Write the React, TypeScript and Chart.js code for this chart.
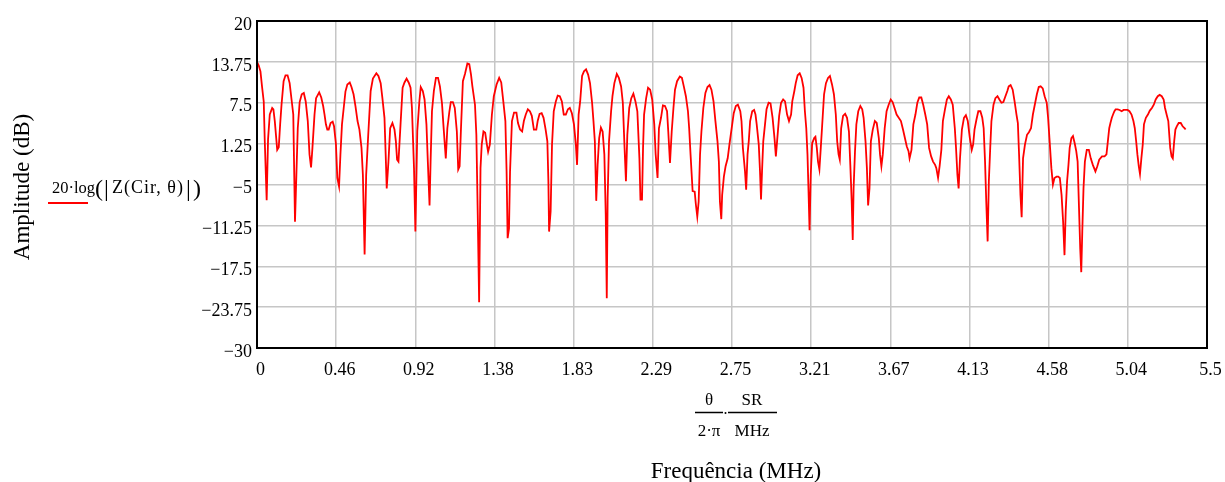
import React, { useEffect, useRef } from 'react';
import { Chart, registerables } from 'chart.js';

Chart.register(...registerables);

const freqMHz = [
  0, 0.01, 0.02, 0.029, 0.039, 0.045, 0.056, 0.064, 0.074, 0.088, 0.095, 0.103, 0.117, 0.126, 0.134, 0.142,
  0.154, 0.165, 0.177, 0.189, 0.2, 0.21, 0.22, 0.228, 0.236, 0.247, 0.259, 0.271, 0.282, 0.294, 0.304, 0.313,
  0.321, 0.333, 0.342, 0.36, 0.372, 0.383, 0.391, 0.399, 0.407, 0.415, 0.426, 0.438, 0.446, 0.457, 0.465, 0.475,
  0.483, 0.492, 0.502, 0.512, 0.523, 0.537, 0.547, 0.559, 0.57, 0.582, 0.593, 0.605, 0.613, 0.623, 0.632, 0.644,
  0.658, 0.671, 0.691, 0.703, 0.716, 0.726, 0.738, 0.745, 0.751, 0.761, 0.771, 0.784, 0.796, 0.804, 0.811, 0.819,
  0.831, 0.843, 0.854, 0.866, 0.878, 0.889, 0.897, 0.909, 0.917, 0.928, 0.94, 0.948,
  0.96, 0.97, 0.981, 0.989, 0.999, 1.005, 1.013, 1.024, 1.036, 1.048, 1.059, 1.071, 1.079, 1.093, 1.102, 1.114,
  1.122, 1.134, 1.145, 1.157, 1.165, 1.173, 1.181, 1.192, 1.204, 1.218, 1.229, 1.239, 1.247, 1.262, 1.27, 1.278,
  1.286, 1.294, 1.301, 1.311, 1.321, 1.331, 1.338, 1.348, 1.36, 1.371, 1.387, 1.402, 1.414, 1.426, 1.438, 1.445,
  1.451, 1.459, 1.465, 1.476, 1.488, 1.502, 1.511, 1.523, 1.535, 1.545, 1.556, 1.568, 1.58, 1.591, 1.603, 1.617,
  1.625, 1.636, 1.648, 1.659, 1.671, 1.681, 1.687, 1.691, 1.7, 1.708, 1.718, 1.73, 1.741, 1.753, 1.765, 1.776,
  1.788, 1.8, 1.811, 1.823, 1.835, 1.846, 1.853,
  1.862, 1.871, 1.882, 1.893, 1.905, 1.917, 1.928, 1.94, 1.948, 1.956, 1.964, 1.972, 1.981, 1.991, 2.001, 2.011,
  2.019, 2.025, 2.03, 2.038, 2.05, 2.058, 2.069, 2.083, 2.095, 2.108, 2.118, 2.128, 2.136, 2.144, 2.155, 2.167,
  2.179, 2.191, 2.202, 2.214, 2.22, 2.229, 2.235, 2.241, 2.253, 2.264, 2.276, 2.288, 2.3, 2.308, 2.319, 2.327,
  2.339, 2.35, 2.362, 2.374, 2.381, 2.391, 2.401, 2.411, 2.42, 2.432, 2.448, 2.46, 2.471, 2.483, 2.495, 2.502,
  2.51, 2.522, 2.534, 2.541, 2.549, 2.557, 2.565, 2.573, 2.584, 2.596, 2.608, 2.62, 2.631, 2.643, 2.654, 2.666,
  2.674, 2.68, 2.688, 2.693, 2.703, 2.713, 2.725, 2.736, 2.748, 2.76, 2.772, 2.784,
  2.798, 2.805, 2.813, 2.825, 2.832, 2.84, 2.847, 2.855, 2.867, 2.878, 2.886, 2.893, 2.905, 2.912, 2.918, 2.924,
  2.931, 2.943, 2.95, 2.962, 2.973, 2.985, 2.996, 3.004, 3.011, 3.023, 3.034, 3.046, 3.057, 3.069, 3.08, 3.092,
  3.099, 3.111, 3.119, 3.13, 3.142, 3.153, 3.164, 3.172, 3.18, 3.187, 3.193, 3.199, 3.206, 3.214, 3.226, 3.233,
  3.241, 3.248, 3.256, 3.264, 3.271, 3.283, 3.294, 3.306, 3.317, 3.329, 3.34, 3.351, 3.359, 3.367, 3.374, 3.382,
  3.393, 3.405, 3.416, 3.427, 3.435, 3.443, 3.449, 3.454, 3.462, 3.47, 3.481, 3.493, 3.504, 3.512, 3.523, 3.531,
  3.538, 3.546, 3.554, 3.565, 3.577, 3.588, 3.6, 3.607, 3.615, 3.623, 3.634, 3.645, 3.657, 3.669, 3.68, 3.691,
  3.703,
  3.728, 3.74, 3.751, 3.762, 3.772, 3.778, 3.789, 3.8, 3.812, 3.823, 3.834, 3.846, 3.857, 3.869, 3.88, 3.891,
  3.903, 3.914, 3.926, 3.933, 3.943, 3.952, 3.962, 3.971, 3.983, 3.994, 4.005, 4.017, 4.028, 4.04, 4.047, 4.055,
  4.062, 4.07, 4.081, 4.093, 4.104, 4.115, 4.127, 4.138, 4.146, 4.154, 4.165, 4.176, 4.188, 4.199, 4.207, 4.215,
  4.222, 4.23, 4.237, 4.245, 4.252, 4.264, 4.275, 4.287, 4.298, 4.31, 4.321, 4.333, 4.344, 4.352, 4.363, 4.375,
  4.386, 4.397, 4.405, 4.412, 4.42, 4.427, 4.435, 4.446, 4.458, 4.469, 4.481, 4.492, 4.503, 4.515, 4.526, 4.537,
  4.549, 4.56, 4.572, 4.58, 4.589, 4.599, 4.608, 4.617, 4.629,
  4.639, 4.648, 4.658, 4.667, 4.675, 4.682, 4.69, 4.698, 4.705, 4.715, 4.724, 4.734, 4.743, 4.751, 4.759, 4.766,
  4.772, 4.778, 4.785, 4.793, 4.804, 4.816, 4.827, 4.839, 4.854, 4.865, 4.876, 4.892, 4.907, 4.918, 4.926, 4.934,
  4.941, 4.949, 4.956, 4.964, 4.971, 4.983, 4.994, 5.006, 5.017, 5.029, 5.04, 5.051, 5.063, 5.074, 5.082, 5.09,
  5.097, 5.105, 5.112, 5.12, 5.128, 5.135, 5.146, 5.158, 5.169, 5.181, 5.192, 5.203, 5.215, 5.226, 5.238, 5.249,
  5.257, 5.268, 5.276, 5.283, 5.287, 5.295, 5.302, 5.31, 5.317, 5.325, 5.336, 5.348, 5.359, 5.371, 5.376,
];

const amplitudeDb = [
  13.75, 13.2, 12.3, 10, 7.7, 1.6, -7.4, 1.9, 5.7, 6.7, 6.5, 4.7, 0.3, 0.7, 4.2, 7.2,
  10.8, 11.7, 11.7, 10.5, 8, 5.7, -10.7, -3.5, 3.6, 7.6, 8.8, 9, 7.7, 4.7, -0.4, -2.4,
  0.6, 5.7, 8.2, 9.1, 8.3, 7, 5.7, 4.2, 3.4, 3.4, 4.4, 4.6, 3.9, 1.2, -4, -5.3,
  -0.4, 4.2, 6.7, 9.2, 10.3, 10.6, 9.9, 8.8, 7, 4.7, 3.4, 0.6, -3.5, -15.7, -3.5, 2.6,
  9.3, 11.2, 12, 11.6, 10.5, 8.2, 5.2, -0.4, -5.6, -1.5, 3.6, 4.4, 3.4, 1.6, -1.2, -1.5,
  4.2, 9.8, 10.6, 11.2, 10.6, 9.8, 6.7, -2.5, -12.2, 3.2, 7.7, 9.9,
  9.3, 8, 4.2, -1.5, -8.2, -1.5, 6.2, 9.3, 11.3, 11.3, 10, 7.4, 4.2, -1, 3.6, 6.2,
  7.6, 7.6, 6.7, 3.1, -2.7, -2.2, 3.6, 10.8, 11.9, 13.5, 13.4, 11.8, 10, 7.2, 2.6, -9.6,
  -23, -2.5, 1.1, 3.1, 2.9, 1.1, 0, 1.1, 5.7, 8.5, 10.3, 11.3, 10.6, 7.7, 4.7, -3,
  -13.2, -11.7, -3, 4.7, 6, 6, 4.4, 3.4, 3.1, 4.7, 5.7, 6.5, 6.2, 5.5, 3.4, 3.4,
  4.7, 5.8, 5.9, 5.2, 3.4, 1.6, -4.5, -12.2, -9.1, 1.1, 6.2, 7.7, 8.6, 8.5, 7.7, 5.7,
  5.7, 6.5, 6.7, 5.9, 4.2, 1.1, -2,
  5.7, 7.7, 11.6, 12.3, 12.6, 11.8, 10.5, 7.5, 4.7, 1.6, -7.5, -2, 2.1, 3.7, 3.1, -0.4,
  -9.6, -22.4, -7.1, 1.6, 6.2, 8.5, 10.5, 11.9, 11.3, 10, 7.5, 0.6, -4.5, 2.6, 6.7, 8.2,
  8.9, 7.7, 6.2, -1, -7.3, -7.3, 0.6, 5.7, 8.2, 9.8, 9.5, 8, 4.2, -0.4, -4, 3.6,
  5.2, 7.1, 7, 6.2, 3.1, -1.7, 3.1, 6.7, 9.5, 10.8, 11.5, 11.3, 10, 8.5, 6.2, 3.6,
  -0.4, -6, -6.1, -8.1, -9.9, -7.6, -0.4, 3.1, 6.7, 9, 9.9, 10.2, 9.5, 7.7, 4.7, 1.6,
  -1.5, -7.6, -10.3, -6.6, -3.8, -2.2, -1, 1.3, 3.6, 5.9, 7, 7.2,
  6.2, 4.7, 0.6, -2.9, -5.8, -0.4, 1.6, 4.7, 6.2, 6.4, 5.7, 4.2, 1.1, -2.9, -7.3, -2.9,
  1.6, 4.7, 6.5, 7.5, 7.4, 5.2, 2.1, -0.7, 1.6, 5.5, 7.5, 8, 7.7, 5.7, 4.7, 5.7,
  7.7, 9.3, 10.5, 11.7, 12, 11.3, 9.8, 6.2, 3.6, -0.4, -6, -12, -3.5, 1.3, 2.1, 2.3,
  0.6, -1.5, -2.7, 0.6, 3.6, 8.8, 10.5, 11.3, 11.6, 10.3, 8.8, 5.7, 1.6, -0.4, -1.2, 3.6,
  5.5, 5.8, 5.2, 3.1, -2, -7.6, -13.5, -5.6, 0, 4.2, 6.2, 7, 6.5, 5.2, 1.6, -2.5,
  -8.2, -5.6, 1.6, 3.4, 4.7, 4.4, 2.1, -0.4, -2.2, -0.4, 3.6, 6.2, 7.2, 8, 7.6, 6.7,
  5.7,
  4.7, 3.4, 2.1, 0.8, 0.1, -1, 0.3, 4.2, 5.7, 7.5, 8.3, 8.3, 7.2, 5.7, 4.2, 0.6,
  -0.7, -1.5, -2, -2.5, -4, -2.2, 0.3, 4.7, 6.5, 8, 8.5, 8, 7.2, 3.6, 0.6, -3.5,
  -5.6, -1, 3.4, 5.2, 5.6, 4.7, 2.1, 0.3, 1.1, 3.4, 4.9, 6.2, 6.2, 5.2, 3.6, -1.5,
  -7.6, -13.7, -4.5, 0.6, 4.7, 7.2, 8.2, 8.5, 8, 7.5, 7.6, 8.5, 9.3, 10, 10.2, 9.5,
  7.7, 5.7, 4.4, -0.4, -6.6, -10, -1, 1.1, 2.6, 3, 3.6, 5.7, 7.2, 8.8, 9.9, 10,
  9.7, 8.5, 7.5, 5.2, 1.6, -2.5, -5, -4, -3.8,
  -3.8, -4, -6.6, -10.7, -15.8, -9.1, -4.5, -2, 0.6, 2.1, 2.4, 1.3, 0.1, -1.5, -8.6, -14.8,
  -18.4, -12.2, -5.6, -1.5, 0.3, 0.3, -1, -2, -3, -2.2, -1.2, -0.7, -0.7, -0.4, 1.6, 3.6,
  4.4, 5.2, 5.7, 6.2, 6.5, 6.5, 6.4, 6.2, 6.4, 6.4, 6.4, 6.2, 5.7, 4.7, 3.6, 1.6,
  -0.4, -2.2, -3.4, -1, 1.1, 4.2, 5.2, 5.7, 6.3, 6.7, 7.2, 8, 8.5, 8.7, 8.5, 8,
  6.7, 5.5, 4.7, 2.1, 0.6, -0.7, -1, 1.6, 3.4, 3.9, 4.4, 4.4, 3.9, 3.6, 3.4,
];

const xTickValues = [0, 0.45833, 0.91667, 1.375, 1.83333, 2.29167, 2.75, 3.20833, 3.66667, 4.125, 4.58333, 5.04167, 5.5];
const xTickLabels = ['0', '0.46', '0.92', '1.38', '1.83', '2.29', '2.75', '3.21', '3.67', '4.13', '4.58', '5.04', '5.5'];
const yTickValues = [-30, -23.75, -17.5, -11.25, -5, 1.25, 7.5, 13.75, 20];
const yTickLabels = ['\u221230', '\u221223.75', '\u221217.5', '\u221211.25', '\u22125', '1.25', '7.5', '13.75', '20'];

const yTitle = 'Amplitude (dB)';
const xTitle = 'Frequência (MHz)';
const legendPrefix = '20·log';
const legendArg = 'Z(Cir, θ)';

const SERIF = "'Liberation Serif', 'Times New Roman', serif";

function labelFor(values: number[], labels: string[], v: number): string {
  const i = values.findIndex((t) => Math.abs(t - v) < 1e-4);
  return i >= 0 ? labels[i] : '';
}

const overlay = {
  id: 'mathcadOverlay',
  afterDraw(chart: any) {
    const ctx: any = chart.ctx;
    const a = chart.chartArea;
    ctx.save();
    // frame
    ctx.strokeStyle = '#000';
    ctx.lineWidth = 2;
    ctx.strokeRect(a.left, a.top, a.right - a.left, a.bottom - a.top);

    ctx.fillStyle = '#000';
    // y title
    ctx.save();
    ctx.translate(23, 187);
    ctx.rotate(-Math.PI / 2);
    ctx.font = `23px ${SERIF}`;
    ctx.textAlign = 'center';
    ctx.textBaseline = 'middle';
    ctx.fillText(yTitle, 0, 0);
    ctx.restore();

    // x title
    ctx.font = `23px ${SERIF}`;
    ctx.textAlign = 'center';
    ctx.textBaseline = 'alphabetic';
    ctx.fillText(xTitle, 736, 478);

    // legend
    ctx.textAlign = 'left';
    ctx.font = `17px ${SERIF}`;
    ctx.fillText(legendPrefix, 52, 193, 43);
    ctx.font = `24px ${SERIF}`;
    ctx.fillText('(', 95, 196);
    ctx.fillText('|', 104, 196);
    ctx.font = `18px ${SERIF}`;
    ctx.letterSpacing = '1px';
    ctx.fillText(legendArg, 112, 193);
    ctx.letterSpacing = '0px';
    ctx.font = `24px ${SERIF}`;
    ctx.fillText('|', 186, 196);
    ctx.fillText(')', 193, 196);
    ctx.strokeStyle = '#ff0000';
    ctx.lineWidth = 2;
    ctx.beginPath();
    ctx.moveTo(48, 203);
    ctx.lineTo(88, 203);
    ctx.stroke();

    // x-axis expression: θ/(2·π) · SR/MHz
    ctx.fillStyle = '#000';
    ctx.strokeStyle = '#000';
    ctx.lineWidth = 1.5;
    ctx.font = `17px ${SERIF}`;
    ctx.textAlign = 'center';
    ctx.fillText('θ', 709, 405);
    ctx.fillText('2·π', 709, 436);
    ctx.fillText('SR', 752, 405);
    ctx.fillText('MHz', 752, 436);
    ctx.beginPath();
    ctx.moveTo(695, 412.5);
    ctx.lineTo(723, 412.5);
    ctx.moveTo(728, 412.5);
    ctx.lineTo(777, 412.5);
    ctx.stroke();
    ctx.beginPath();
    ctx.arc(725.5, 413, 1, 0, Math.PI * 2);
    ctx.fill();
    ctx.restore();
  },
};

export default function App() {
  const ref = useRef<HTMLCanvasElement>(null);
  useEffect(() => {
    const canvas = ref.current;
    if (!canvas) return;
    const points = freqMHz.map((f, i) => ({ x: f, y: amplitudeDb[i] }));
    const chart = new Chart(canvas, {
      type: 'line',
      data: {
        datasets: [
          {
            data: points,
            borderColor: '#ff0000',
            borderWidth: 1.8,
            pointRadius: 0,
            tension: 0,
            fill: false,
          },
        ],
      },
      options: {
        animation: false,
        responsive: false,
        events: [],
        layout: { padding: { left: 0, top: 21, right: 18, bottom: 0 } },
        plugins: { legend: { display: false }, tooltip: { enabled: false } },
        scales: {
          x: {
            type: 'linear',
            min: 0,
            max: 5.5,
            afterBuildTicks: (s: any) => {
              s.ticks = xTickValues.map((v) => ({ value: v }));
            },
            afterFit: (s: any) => {
              s.height = 134;
              s.paddingLeft = 0;
              s.paddingRight = 0;
            },
            ticks: {
              autoSkip: false,
              maxRotation: 0,
              minRotation: 0,
              padding: 11,
              labelOffset: 3.5,
              color: '#000',
              font: { family: SERIF, size: 18 },
              callback: (v: any) => labelFor(xTickValues, xTickLabels, Number(v)),
            },
            grid: { color: '#c6c6c6', lineWidth: 1.5, drawTicks: false },
            border: { display: false },
          },
          y: {
            type: 'linear',
            min: -30,
            max: 20,
            afterBuildTicks: (s: any) => {
              s.ticks = yTickValues.map((v) => ({ value: v }));
            },
            afterFit: (s: any) => {
              s.width = 257;
              s.paddingTop = 0;
              s.paddingBottom = 0;
            },
            ticks: {
              autoSkip: false,
              padding: 5,
              labelOffset: 4,
              color: '#000',
              font: { family: SERIF, size: 18 },
              callback: (v: any) => labelFor(yTickValues, yTickLabels, Number(v)),
            },
            grid: { color: '#c6c6c6', lineWidth: 1.5, drawTicks: false },
            border: { display: false },
          },
        },
      },
      plugins: [overlay],
    } as any);
    return () => chart.destroy();
  }, []);

  return (
    <div style={{ position: 'fixed', left: 0, top: 0, width: 1225, height: 482, background: '#fff' }}>
      <canvas ref={ref} width={1225} height={482} style={{ display: 'block', width: 1225, height: 482 }} />
    </div>
  );
}
